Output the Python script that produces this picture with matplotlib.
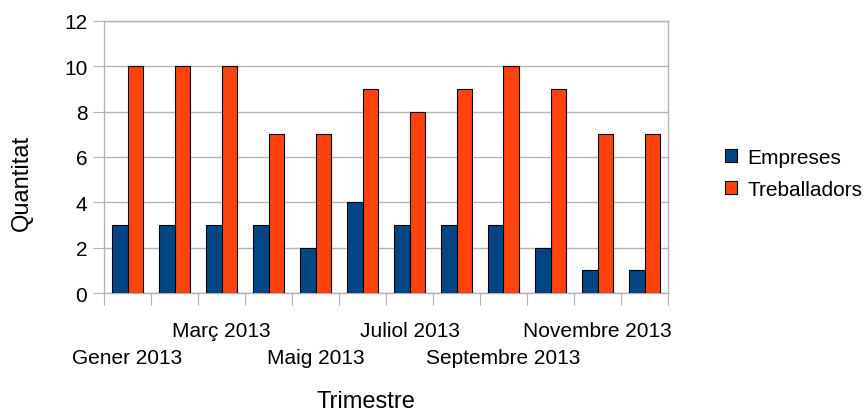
import matplotlib
matplotlib.use("Agg")
import matplotlib.pyplot as plt
import numpy as np

months = ["Gener 2013", "Febrer 2013", "Març 2013", "Abril 2013", "Maig 2013",
          "Juny 2013", "Juliol 2013", "Agost 2013", "Septembre 2013",
          "Octubre 2013", "Novembre 2013", "Desembre 2013"]
empreses = [3, 3, 3, 3, 2, 4, 3, 3, 3, 2, 1, 1]
treballadors = [10, 10, 10, 7, 7, 9, 8, 9, 10, 9, 7, 7]

plt.rcParams["font.family"] = ["Liberation Sans", "DejaVu Sans"]
GRID = "#b3b3b3"
FS = 15

fig = plt.figure(figsize=(8.66, 4.14), dpi=100)
ax = fig.add_axes([104 / 866, 1 - 294 / 414, (668 - 104) / 866, (294 - 22) / 414])

x = np.arange(len(months))
w = 0.33
ax.bar(x - w / 2, empreses, w, color="#004586", edgecolor="black", linewidth=0.8,
       label="Empreses", zorder=3)
ax.bar(x + w / 2, treballadors, w, color="#ff420e", edgecolor="black", linewidth=0.8,
       label="Treballadors", zorder=3)

ax.set_xlim(-0.5, len(months) - 0.5)
ax.set_ylim(0, 12)
ax.set_yticks(range(0, 13, 2))
ax.tick_params(axis="y", length=8, color=GRID, labelsize=FS, pad=4)
ax.yaxis.grid(True, color=GRID, linewidth=1, zorder=0)

# category boundaries as outward ticks, labels on every other month, staggered
ax.set_xticks(np.arange(-0.5, len(months), 1.0))
ax.set_xticklabels([])
ax.tick_params(axis="x", length=8.6, color=GRID)
for i in range(0, len(months), 2):
    off = -31 if i % 4 == 2 else -50.4
    ax.annotate(months[i], xy=(x[i], 0), xycoords=("data", "axes fraction"),
                xytext=(0, off), textcoords="offset points",
                ha="center", va="baseline", fontsize=FS)

for s in ax.spines.values():
    s.set_color(GRID)
    s.set_linewidth(1)

fig.text(22 / 866, 1 - 183 / 414, "Quantitat", rotation=90, ha="center",
         va="center", fontsize=17)
fig.text(366 / 866, 1 - 402 / 414, "Trimestre", ha="center", va="center",
         fontsize=17)

fig.legend(loc="center left", bbox_to_anchor=(725 / 866, 1 - 174.5 / 414),
           frameon=False, fontsize=FS, handlelength=0.58, handleheight=0.58,
           handletextpad=0.5, labelspacing=0.6, borderaxespad=0, borderpad=0)

fig.savefig("out.png", dpi=100)
